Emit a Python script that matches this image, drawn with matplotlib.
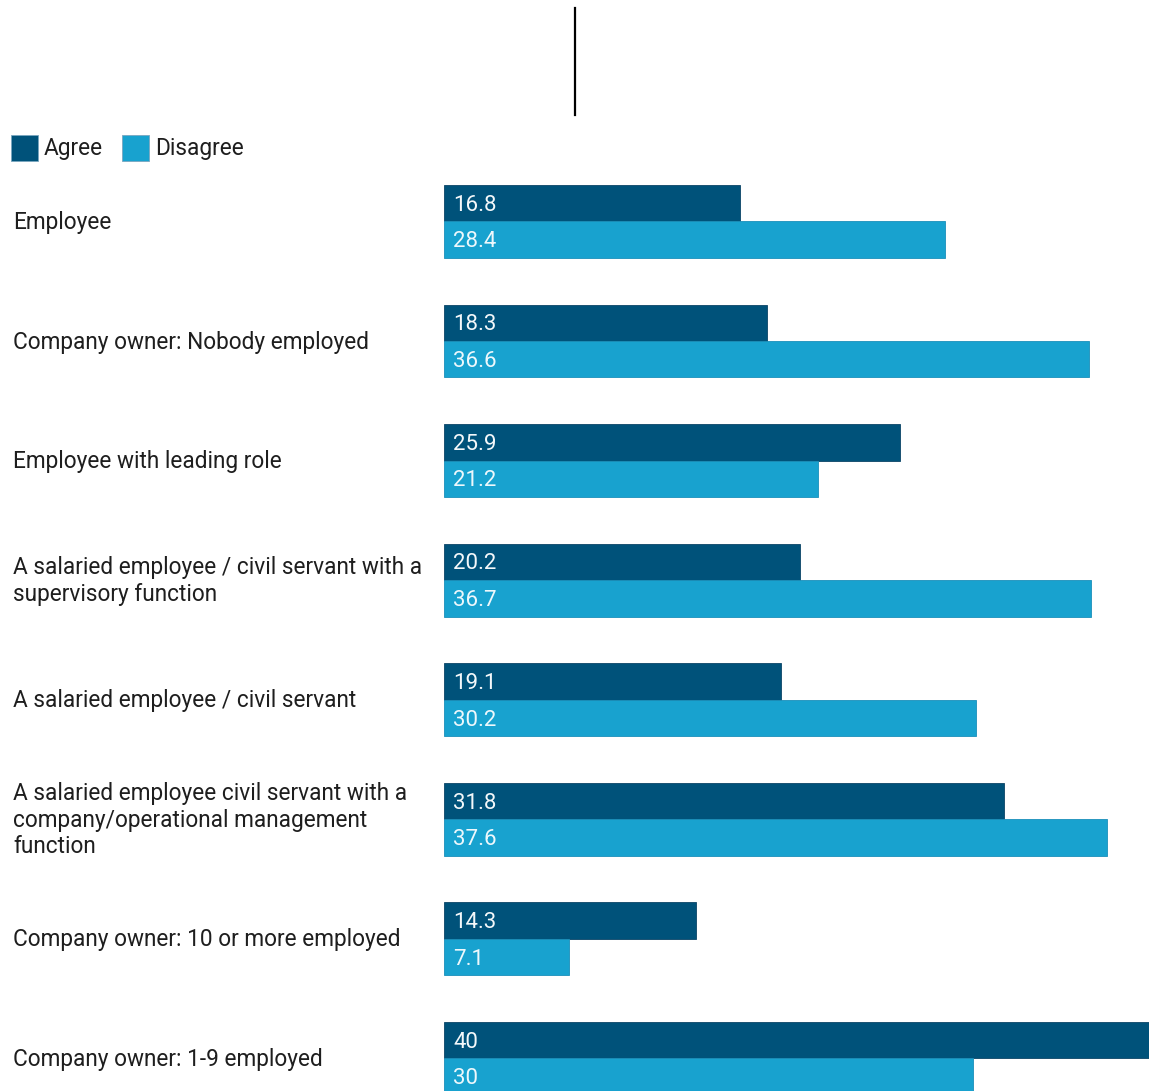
import matplotlib
matplotlib.use("Agg")
import matplotlib.pyplot as plt
from matplotlib.patches import Rectangle
from matplotlib.lines import Line2D
import numpy as np

categories = [
    "Employee",
    "Company owner: Nobody employed",
    "Employee with leading role",
    "A salaried employee / civil servant with a\nsupervisory function",
    "A salaried employee / civil servant",
    "A salaried employee civil servant with a\ncompany/operational management\nfunction",
    "Company owner: 10 or more employed",
    "Company owner: 1-9 employed",
]
agree = [16.8, 18.3, 25.9, 20.2, 19.1, 31.8, 14.3, 40]
disagree = [28.4, 36.6, 21.2, 36.7, 30.2, 37.6, 7.1, 30]
agree_labels = ["16.8", "18.3", "25.9", "20.2", "19.1", "31.8", "14.3", "40"]
disagree_labels = ["28.4", "36.6", "21.2", "36.7", "30.2", "37.6", "7.1", "30"]
series_names = ["Agree", "Disagree"]

C_AGREE = "#00527a"
C_DIS = "#18a2cf"

plt.rcParams['font.family'] = ['Roboto', 'DejaVu Sans']

W, H = 1149, 1091
fig = plt.figure(figsize=(W / 100, H / 100), dpi=100)
ax = fig.add_axes([444 / W, 0, 705 / W, 1])

y = np.arange(len(categories))
bh = 0.305
ax.barh(y - bh / 2, agree, height=bh, color=C_AGREE, edgecolor="#0a4466", linewidth=0.6)
ax.barh(y + bh / 2, disagree, height=bh, color=C_DIS, edgecolor="#1a8fba", linewidth=0.6)

ax.set_xlim(0, 40)
ax.set_ylim(7.272, -1.852)
ax.axis("off")

off = 9 * 40 / 705
dy = 0.017
for i in range(len(categories)):
    ax.text(off, y[i] - bh / 2 + dy, agree_labels[i], color="#f4f8fa", fontsize=16,
            va="center", ha="left")
    ax.text(off, y[i] + bh / 2 + dy, disagree_labels[i], color="#eef8fc", fontsize=16,
            va="center", ha="left")

# category labels
for i, c in enumerate(categories):
    yc = 1 - (222.5 + i * 119.57) / H
    fig.text(13 / W, yc, c, fontsize=16.3, va="center", ha="left", color="#1e1e1e",
             linespacing=1.2)

# legend
for x0, col, name, tx in [(11, C_AGREE, series_names[0], 44), (122, C_DIS, series_names[1], 155)]:
    fig.add_artist(Rectangle((x0 / W, 1 - 161 / H), 27 / W, 26 / H,
                             transform=fig.transFigure, facecolor=col,
                             edgecolor="#7aa6bf", linewidth=0.6))
    fig.text(tx / W, 1 - 148 / H, name, fontsize=16.3, va="center", ha="left", color="#1e1e1e")

# vertical line artifact
fig.add_artist(Line2D([575 / W, 575 / W], [1 - 8 / H, 1 - 115 / H],
                      transform=fig.transFigure, color="black", linewidth=1.6))

fig.savefig("out.png", dpi=100)
